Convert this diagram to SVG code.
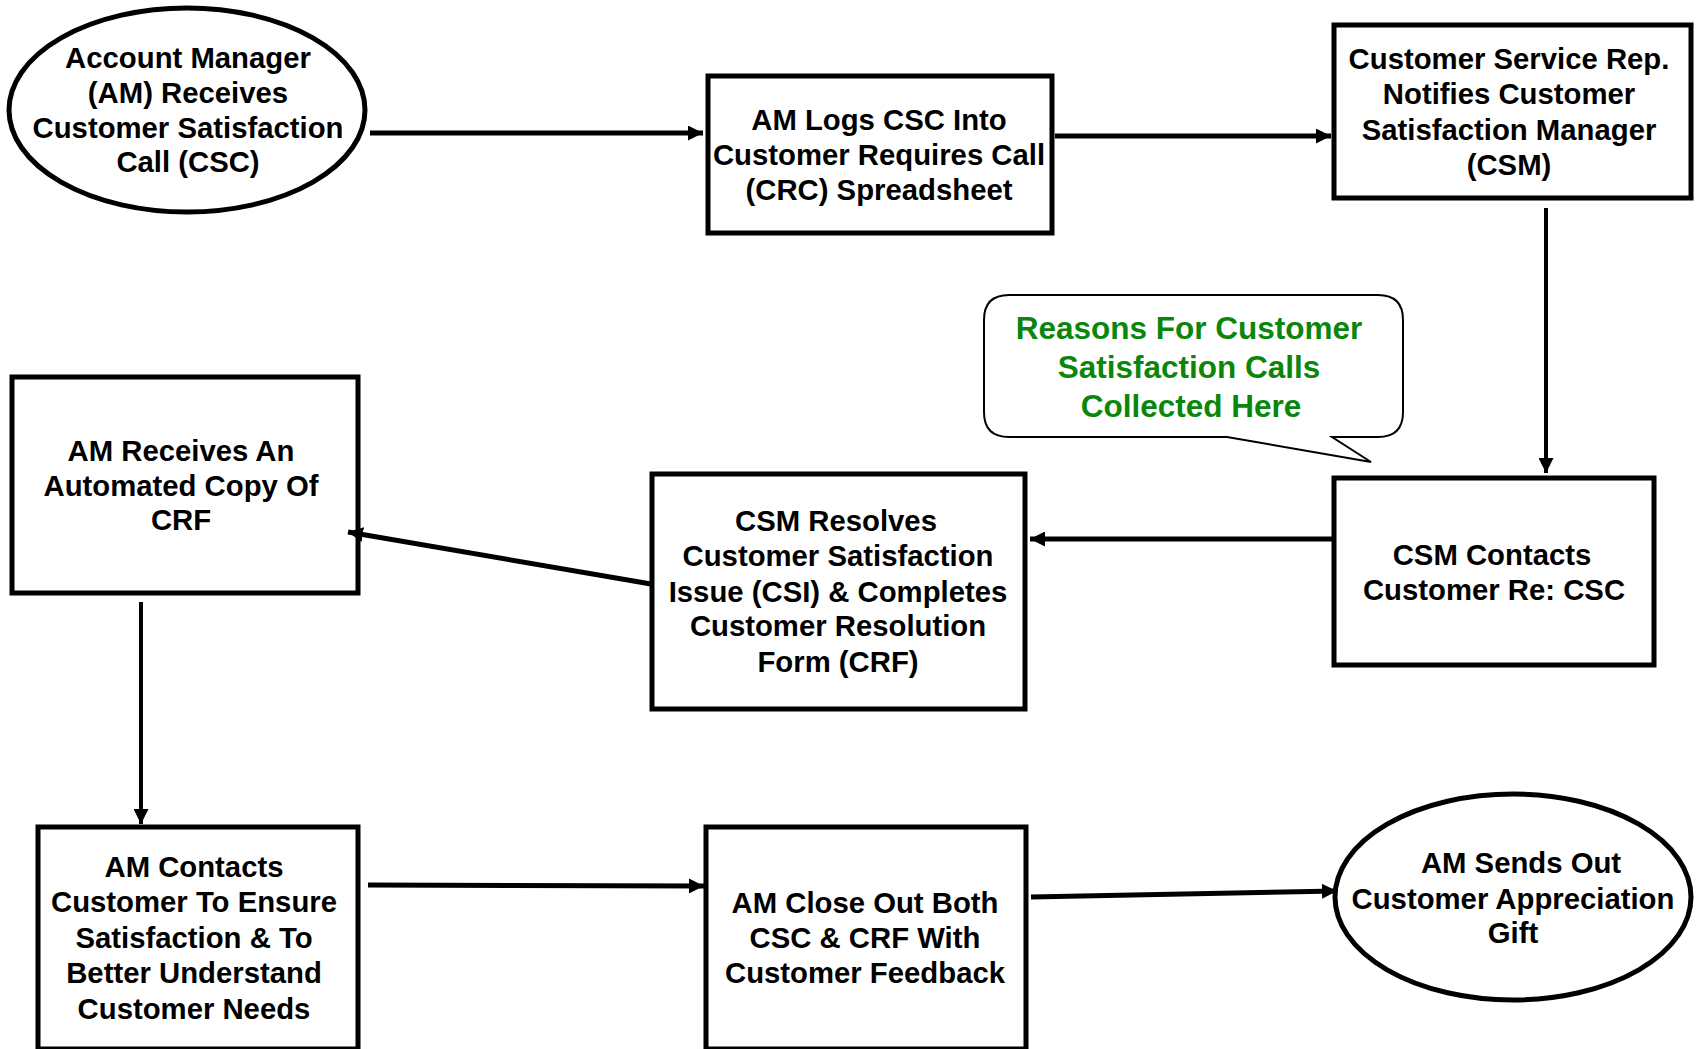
<svg xmlns="http://www.w3.org/2000/svg" width="1696" height="1049" viewBox="0 0 1696 1049">
<style>
.n{fill:#fff;stroke:#000;stroke-width:5}
.t{font-family:"Liberation Sans",Arial,sans-serif;font-weight:bold;font-size:29.3px;fill:#000;text-anchor:middle}
.g{font-family:"Liberation Sans",Arial,sans-serif;font-weight:bold;font-size:31.5px;fill:#0a870a;text-anchor:middle}
.c{fill:none;stroke:#000;stroke-width:5}
.c2{fill:none;stroke:#000;stroke-width:4}
</style>
<defs>
<marker id="ah" viewBox="0 0 10 10" refX="10" refY="5" markerWidth="15" markerHeight="15" markerUnits="userSpaceOnUse" orient="auto">
<path d="M0,0 L10,5 L0,10 Z" fill="#000"/>
</marker>
</defs>
<rect width="1696" height="1049" fill="#fff"/>
<g id="n1">
<ellipse class="n" cx="187" cy="110" rx="178" ry="102"/>
<text class="t"><tspan x="188" y="68">Account Manager</tspan><tspan x="188" y="103">(AM) Receives</tspan><tspan x="188" y="138">Customer Satisfaction</tspan><tspan x="188" y="172">Call (CSC)</tspan></text>
</g>
<g id="n2">
<rect class="n" x="708" y="76" width="344" height="157"/>
<text class="t"><tspan x="879" y="130">AM Logs CSC Into</tspan><tspan x="879" y="165">Customer Requires Call</tspan><tspan x="879" y="200">(CRC) Spreadsheet</tspan></text>
</g>
<g id="n3">
<rect class="n" x="1334" y="25" width="357" height="173"/>
<text class="t"><tspan x="1509" y="69">Customer Service Rep.</tspan><tspan x="1509" y="104">Notifies Customer</tspan><tspan x="1509" y="140">Satisfaction Manager</tspan><tspan x="1509" y="175">(CSM)</tspan></text>
</g>
<g id="callout">
<path d="M1009 295 H1378 Q1403 295 1403 320 V412 Q1403 437 1378 437 H1332 L1371 462 L1227 437 H1009 Q984 437 984 412 V320 Q984 295 1009 295 Z" fill="#fff" stroke="#000" stroke-width="2"/>
<text class="g"><tspan x="1189" y="339">Reasons For Customer</tspan><tspan x="1189" y="378">Satisfaction Calls</tspan><tspan x="1191" y="417">Collected Here</tspan></text>
</g>
<g id="n4">
<rect class="n" x="1334" y="478" width="320" height="187"/>
<text class="t"><tspan x="1492" y="565">CSM Contacts</tspan><tspan x="1494" y="600">Customer Re: CSC</tspan></text>
</g>
<g id="n5">
<rect class="n" x="652" y="474" width="373" height="235"/>
<text class="t"><tspan x="836" y="531">CSM Resolves</tspan><tspan x="838" y="566">Customer Satisfaction</tspan><tspan x="838" y="602">Issue (CSI) &amp; Completes</tspan><tspan x="838" y="636">Customer Resolution</tspan><tspan x="838" y="672">Form (CRF)</tspan></text>
</g>
<g id="n6">
<rect class="n" x="12" y="377" width="346" height="216"/>
<text class="t"><tspan x="181" y="461">AM Receives An</tspan><tspan x="181" y="496">Automated Copy Of</tspan><tspan x="181" y="530">CRF</tspan></text>
</g>
<g id="n7">
<rect class="n" x="38" y="827" width="320" height="222"/>
<text class="t"><tspan x="194" y="877">AM Contacts</tspan><tspan x="194" y="912">Customer To Ensure</tspan><tspan x="194" y="948">Satisfaction &amp; To</tspan><tspan x="194" y="983">Better Understand</tspan><tspan x="194" y="1019">Customer Needs</tspan></text>
</g>
<g id="n8">
<rect class="n" x="706" y="827" width="320" height="222"/>
<text class="t"><tspan x="865" y="913">AM Close Out Both</tspan><tspan x="865" y="948">CSC &amp; CRF With</tspan><tspan x="865" y="983">Customer Feedback</tspan></text>
</g>
<g id="n9">
<ellipse class="n" cx="1513" cy="897" rx="178" ry="103"/>
<text class="t"><tspan x="1521" y="873">AM Sends Out</tspan><tspan x="1513" y="909">Customer Appreciation</tspan><tspan x="1513" y="943">Gift</tspan></text>
</g>
<g id="connectors">
<line class="c" x1="370" y1="133" x2="703" y2="133" marker-end="url(#ah)"/>
<line class="c" x1="1055" y1="136" x2="1331" y2="136" marker-end="url(#ah)"/>
<line class="c2" x1="1546" y1="208" x2="1546" y2="473" marker-end="url(#ah)"/>
<line class="c" x1="1333" y1="539" x2="1030" y2="539" marker-end="url(#ah)"/>
<line class="c" x1="651" y1="584" x2="348" y2="532" marker-end="url(#ah)"/>
<line class="c2" x1="141" y1="602" x2="141" y2="824" marker-end="url(#ah)"/>
<line class="c" x1="368" y1="885" x2="704" y2="886" marker-end="url(#ah)"/>
<line class="c" x1="1031" y1="897" x2="1337" y2="891" marker-end="url(#ah)"/>
</g>
</svg>
